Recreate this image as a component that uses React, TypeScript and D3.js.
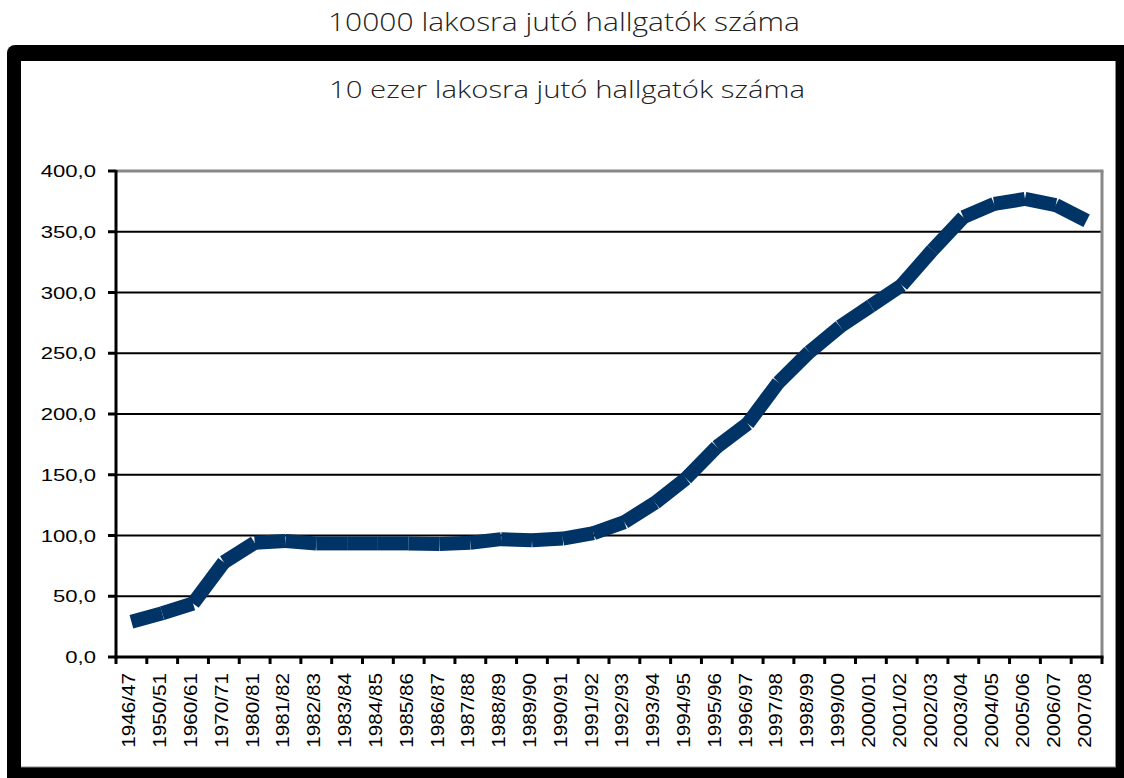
import React from "react";
import * as d3 from "d3";

const categories = [
  "1946/47", "1950/51", "1960/61", "1970/71", "1980/81", "1981/82", "1982/83", "1983/84",
  "1984/85", "1985/86", "1986/87", "1987/88", "1988/89", "1989/90", "1990/91", "1991/92",
  "1992/93", "1993/94", "1994/95", "1995/96", "1996/97", "1997/98", "1998/99", "1999/00",
  "2000/01", "2001/02", "2002/03", "2003/04", "2004/05", "2005/06", "2006/07", "2007/08",
];
const values = [
  29, 36, 44, 78, 94, 95.5, 93.5, 93.5,
  93.5, 93.5, 93, 94, 97, 96, 97.5, 102,
  111, 127, 147, 173, 192, 226, 251, 272,
  289, 306, 335, 362, 373, 377, 372, 359,
];
const yTicks = [0, 50, 100, 150, 200, 250, 300, 350, 400];

const W = 1124;
const H = 778;
const plot = { left: 116, right: 1102, top: 171, bottom: 657 };
const labelFont = "'Liberation Sans', Arial, sans-serif";
const titleFont = "'Open Sans', sans-serif";

export default function App() {
  const x = d3.scaleBand<string>().domain(categories).range([plot.left, plot.right]).padding(0);
  const y = d3.scaleLinear().domain([0, 400]).range([plot.bottom, plot.top]);
  const fmt = (v: number) => d3.format(".1f")(v).replace(".", ",");
  const cx = (c: string) => (x(c) as number) + x.bandwidth() / 2;

  const pts = categories.map((c, i) => [cx(c), y(values[i])] as [number, number]);
  const segs = pts.slice(1).map((p, i) => [pts[i], p]);

  return (
    <svg width={W} height={H} style={{ position: "absolute", left: 0, top: 0, background: "#fff" }}>
      <text x={564} y={31} textAnchor="middle" fontFamily={titleFont} fontWeight={300} fontSize={25} fill="#222"
        textLength={472} lengthAdjust="spacingAndGlyphs">
        10000 lakosra jutó hallgatók száma
      </text>
      {/* outer frame */}
      <rect x={7} y={45} width={1140} height={760} rx={8} fill="#000" />
      <rect x={21} y={61} width={1095} height={706} fill="#fff" />
      <line x1={21} x2={1116} y1={767} y2={767} stroke="#888" strokeWidth={1} />
      <line x1={1115.5} x2={1115.5} y1={61} y2={767} stroke="#888" strokeWidth={1} />

      <text x={567} y={98} textAnchor="middle" fontFamily={titleFont} fontWeight={300} fontSize={24} fill="#222"
        textLength={476} lengthAdjust="spacingAndGlyphs">
        10 ezer lakosra jutó hallgatók száma
      </text>

      {/* gridlines */}
      {yTicks.filter((t) => t > 0 && t < 400).map((t) => (
        <line key={t} x1={plot.left} x2={plot.right} y1={y(t)} y2={y(t)} stroke="#000" strokeWidth={2} />
      ))}
      {/* plot border top/right */}
      <line x1={plot.left} x2={plot.right + 1.5} y1={y(400)} y2={y(400)} stroke="#888" strokeWidth={3} />
      <line x1={plot.right} x2={plot.right} y1={y(400)} y2={plot.bottom} stroke="#888" strokeWidth={3} />

      {/* axes */}
      <line x1={plot.left} x2={plot.left} y1={y(400) - 1} y2={plot.bottom + 1.5} stroke="#000" strokeWidth={3} />
      <line x1={plot.left - 1.5} x2={plot.right + 1.5} y1={plot.bottom} y2={plot.bottom} stroke="#000" strokeWidth={3} />
      {yTicks.map((t) => (
        <g key={t}>
          <line x1={plot.left - 8} x2={plot.left} y1={y(t)} y2={y(t)} stroke="#000" strokeWidth={3} />
          <text transform={`translate(96,${y(t)}) scale(1.3,1)`} dy="0.36em" textAnchor="end" fontFamily={labelFont} fontSize={17} fill="#000">
            {fmt(t)}
          </text>
        </g>
      ))}
      {categories.map((c) => (
        <line key={"t" + c} x1={x(c) as number} x2={x(c) as number} y1={plot.bottom} y2={plot.bottom + 7} stroke="#000" strokeWidth={3} />
      ))}
      <line x1={plot.right} x2={plot.right} y1={plot.bottom} y2={plot.bottom + 7} stroke="#000" strokeWidth={3} />
      {categories.map((c) => (
        <text
          key={"l" + c}
          transform={`translate(${cx(c) + 4},${plot.bottom + 16}) rotate(-90) scale(1.15,1)`}
          textAnchor="end"
          fontFamily={labelFont}
          fontSize={18}
          fill="#000"
        >
          {c}
        </text>
      ))}

      {/* line */}
      {segs.map((s, i) => (
        <line key={"s" + i} x1={s[0][0]} y1={s[0][1]} x2={s[1][0]} y2={s[1][1]} stroke="#003366" strokeWidth={14} strokeLinecap="butt" />
      ))}
    </svg>
  );
}
